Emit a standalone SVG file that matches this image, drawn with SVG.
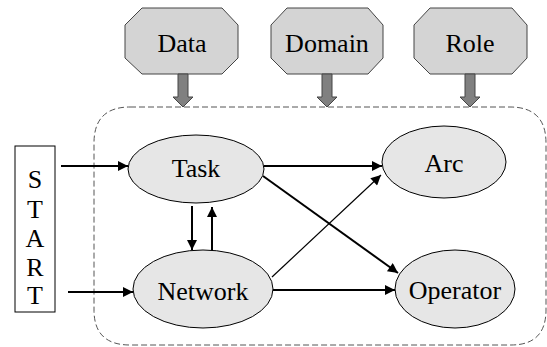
<svg xmlns="http://www.w3.org/2000/svg" width="547" height="347" viewBox="0 0 547 347">
<defs>
<style>
.t{font-family:'Liberation Serif','Times New Roman',Times,Tinos,'Nimbus Roman','DejaVu Serif','Noto Serif',serif;font-size:26px;fill:#000;text-anchor:middle}
.oct{fill:#d4d4d4;stroke:#444;stroke-width:1}
.ell{fill:#e6e6e6;stroke:#000;stroke-width:1}
.blk{fill:#808080;stroke:#444;stroke-width:1}
.con{stroke:#000;stroke-width:2;fill:none;marker-end:url(#ah)}
.thin{stroke:#000;stroke-width:1.2;fill:none;marker-end:url(#ah)}
</style>
<marker id="ah" viewBox="0 0 10 10" refX="10" refY="5" markerWidth="12" markerHeight="10" markerUnits="userSpaceOnUse" orient="auto">
<path d="M0,0L10,5L0,10z" fill="#000"/>
</marker>
</defs>
<rect width="547" height="347" fill="#fff"/>
<path d="M130,107 H510 Q546,107 546,143 V310 Q546,345 511,345 H130 Q94,345 94,310 V143 Q94,107 130,107 Z" fill="none" stroke="#555" stroke-width="1" stroke-dasharray="6,3"/>
<g id="data">
<polygon class="oct" points="142,8 222,8 238,25 238,58 222,74 142,74 125,58 125,25"/>
<text class="t" x="182" y="52">Data</text>
<polygon class="blk" points="178,74 188,74 188,97 193,97 183,107 173,97 178,97"/>
</g>
<g id="domain">
<polygon class="oct" points="287,8 368,8 383,25 383,58 368,74 287,74 271,58 271,25"/>
<text class="t" x="327" y="52">Domain</text>
<polygon class="blk" points="322,74 332,74 332,97 337,97 327,107 317,97 322,97"/>
</g>
<g id="role">
<polygon class="oct" points="430,8 512,8 527,25 527,58 512,74 430,74 414,58 414,25"/>
<text class="t" x="470" y="52">Role</text>
<polygon class="blk" points="465,74 475,74 475,97 480,97 470,107 460,97 465,97"/>
</g>
<g id="start">
<rect x="15" y="146" width="40" height="166" fill="#fff" stroke="#000" stroke-width="1"/>
<text class="t" x="35" y="188">S</text>
<text class="t" x="35" y="218">T</text>
<text class="t" x="35" y="247">A</text>
<text class="t" x="35" y="276">R</text>
<text class="t" x="35" y="304">T</text>
</g>
<g id="task">
<ellipse class="ell" cx="196" cy="169" rx="68" ry="34"/>
<text class="t" x="196" y="177">Task</text>
</g>
<g id="network">
<ellipse class="ell" cx="203" cy="289" rx="70" ry="39"/>
<text class="t" x="203" y="300">Network</text>
</g>
<g id="arc">
<ellipse class="ell" cx="444" cy="162" rx="62" ry="36"/>
<text class="t" x="444" y="172">Arc</text>
</g>
<g id="operator">
<ellipse class="ell" cx="455" cy="289" rx="60" ry="39"/>
<text class="t" x="455" y="299">Operator</text>
</g>
<g id="connectors">
<line class="con" x1="61" y1="166" x2="128" y2="166"/>
<line class="con" x1="68" y1="292" x2="133" y2="292"/>
<line class="con" x1="192" y1="206" x2="192" y2="250"/>
<line class="con" x1="212" y1="250" x2="212" y2="207"/>
<line class="con" x1="264" y1="166" x2="382" y2="166"/>
<line class="con" x1="263" y1="176" x2="398" y2="273"/>
<line class="thin" x1="272" y1="277" x2="381" y2="175"/>
<line class="con" x1="273" y1="290" x2="395" y2="290"/>
</g>
</svg>
